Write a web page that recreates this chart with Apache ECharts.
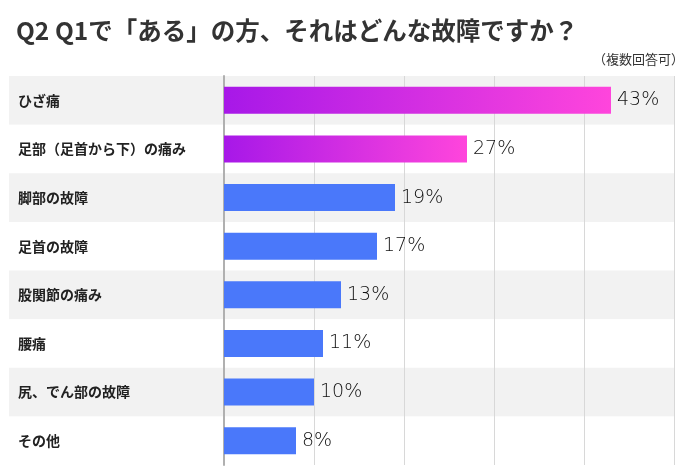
<!DOCTYPE html>
<html>
<head>
<meta charset="utf-8">
<script src="https://cdn.jsdelivr.net/npm/echarts@6/dist/echarts.min.js"></script>
<style>
  html, body { margin: 0; padding: 0; background: #fff; }
  #chart { width: 693px; height: 471px; }
</style>
</head>
<body>
<div id="chart"></div>
<script>
var titleText = 'Q2 Q1で「ある」の方、それはどんな故障ですか？';
var noteText = '（複数回答可）';
var categories = ['ひざ痛', '足部（足首から下）の痛み', '脚部の故障', '足首の故障', '股関節の痛み', '腰痛', '尻、でん部の故障', 'その他'];
var values = [43, 27, 19, 17, 13, 11, 10, 8];
var highlightCount = 2; // 上位2項目はグラデーション

var font = '"Noto Sans CJK JP", "Noto Sans", sans-serif';
var chart = echarts.init(document.getElementById('chart'), null, {renderer: 'canvas'});

var barData = [];
for (var i = 0; i < values.length; i++) {
  var color = '#4a78fa';
  if (i < highlightCount) {
    color = new echarts.graphic.LinearGradient(0, 0, 1, 0, [
      {offset: 0, color: '#a718e8'},
      {offset: 1, color: '#ff45dc'}
    ]);
  }
  barData.push({value: values[i], itemStyle: {color: color}});
}

chart.setOption({
  animation: false,
  textStyle: {fontFamily: font},
  title: [
    {
      text: titleText,
      left: 11, top: 13,
      textStyle: {fontSize: 24.5, fontWeight: 'bold', color: '#333', fontFamily: font}
    },
    {
      text: noteText,
      right: 4, top: 48,
      textStyle: {fontSize: 13, fontWeight: 'normal', color: '#333', fontFamily: font}
    }
  ],
  grid: [
    {left: 9, right: 19, top: 76, bottom: 6},   // 行の縞模様
    {left: 224, right: 19, top: 76, bottom: 6}  // 棒グラフ
  ],
  xAxis: [
    {gridIndex: 0, type: 'value', min: 0, max: 1, show: false},
    {
      gridIndex: 1, type: 'value', min: 0, max: 50, interval: 10,
      axisLine: {show: false},
      axisTick: {show: false},
      axisLabel: {show: false},
      splitLine: {show: true, lineStyle: {color: '#d8d8d8', width: 1}}
    }
  ],
  yAxis: [
    {
      gridIndex: 0, type: 'category', data: categories, inverse: true,
      axisLine: {show: false}, axisTick: {show: false}, axisLabel: {show: false},
      splitLine: {show: false},
      splitArea: {show: true, areaStyle: {color: ['#f2f2f2', '#ffffff']}}
    },
    {
      gridIndex: 1, type: 'category', data: categories, inverse: true,
      axisLine: {show: true, lineStyle: {color: '#b0b0b0', width: 2}},
      axisTick: {show: false},
      axisLabel: {
        align: 'left', margin: 206,
        fontSize: 14, fontWeight: 'bold', color: '#222', fontFamily: font
      }
    }
  ],
  series: [
    {
      type: 'bar',
      xAxisIndex: 1, yAxisIndex: 1,
      data: barData,
      barWidth: 27,
      label: {
        show: true,
        position: 'right',
        distance: 6,
        formatter: '{c}%',
        fontSize: 19,
        fontWeight: 'lighter',
        color: '#111',
        fontFamily: '"DejaVu Sans", sans-serif'
      }
    }
  ]
});
</script>
</body>
</html>
